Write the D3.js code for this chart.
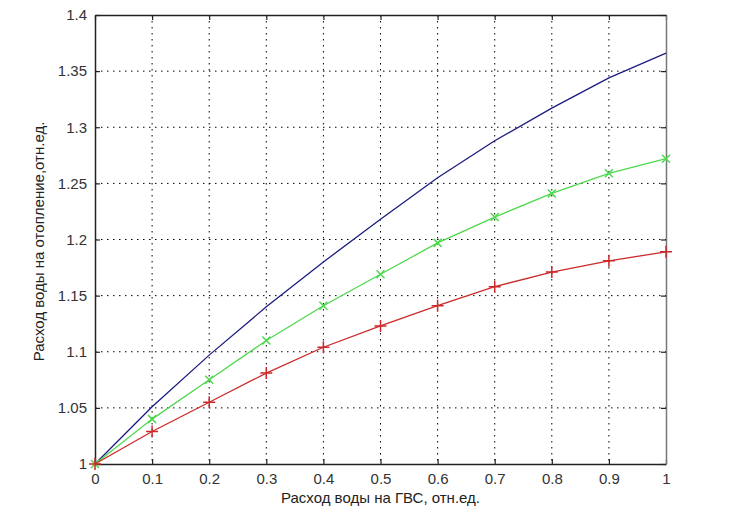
<!DOCTYPE html>
<html><head><meta charset="utf-8">
<script src="https://cdn.jsdelivr.net/npm/d3@7"></script>
<style>body{margin:0;background:#fff;}svg{display:block;}</style>
</head><body>
<svg id="c" width="733" height="523"></svg>
<script>
const xValues = [0,0.1,0.2,0.3,0.4,0.5,0.6,0.7,0.8,0.9,1.0];
const blueValues = [1.0,1.051,1.097,1.140,1.180,1.218,1.255,1.288,1.317,1.344,1.366];
const greenValues = [1.0,1.040,1.075,1.110,1.141,1.169,1.197,1.220,1.241,1.259,1.272];
const redValues = [1.0,1.029,1.055,1.081,1.104,1.123,1.141,1.158,1.171,1.181,1.189];
const xTicks = [0,0.1,0.2,0.3,0.4,0.5,0.6,0.7,0.8,0.9,1];
const yTicks = [1,1.05,1.1,1.15,1.2,1.25,1.3,1.35,1.4];
const xLabel = "Расход воды на ГВС, отн.ед.";
const yLabel = "Расход воды на отопление,отн.ед.";

const L=95,R=666,T=15,B=464;
const svg=d3.select("#c");
const x=d3.scaleLinear().domain([0,1]).range([L,R]);
const y=d3.scaleLinear().domain([1,1.4]).range([B,T]);
const font="Liberation Sans, Arial, sans-serif";

// grid
const g=svg.append("g");
g.selectAll(".vg").data(xTicks.slice(1,-1)).join("line")
  .attr("x1",d=>x(d)).attr("x2",d=>x(d)).attr("y1",T).attr("y2",B)
  .attr("stroke","#000").attr("stroke-width",1).attr("stroke-dasharray","1.5,4.5");
g.selectAll(".hg").data(yTicks.slice(1,-1)).join("line")
  .attr("y1",d=>y(d)).attr("y2",d=>y(d)).attr("x1",L).attr("x2",R)
  .attr("stroke","#000").attr("stroke-width",1).attr("stroke-dasharray","1.5,4.5");

// axes
const fmt=d=>String(+d.toFixed(2));
const xAxis=svg.append("g").attr("transform",`translate(0,${B})`)
  .call(d3.axisBottom(x).tickValues(xTicks).tickFormat(fmt).tickSizeInner(-5).tickSizeOuter(0).tickPadding(9));
const xTop=svg.append("g").attr("transform",`translate(0,${T})`)
  .call(d3.axisTop(x).tickValues(xTicks).tickFormat("").tickSizeInner(-5).tickSizeOuter(0));
const yAxis=svg.append("g").attr("transform",`translate(${L},0)`)
  .call(d3.axisLeft(y).tickValues(yTicks).tickFormat(fmt).tickSizeInner(-5).tickSizeOuter(0).tickPadding(8));
const yRight=svg.append("g").attr("transform",`translate(${R},0)`)
  .call(d3.axisRight(y).tickValues(yTicks).tickFormat("").tickSizeInner(-5).tickSizeOuter(0));
[xAxis,xTop,yAxis,yRight].forEach(a=>{
  a.selectAll(".domain").attr("stroke","#222").attr("stroke-width",1.5);
  a.selectAll(".tick line").attr("stroke","#222").attr("stroke-width",1.2);
  a.selectAll("text").attr("font-family",font).attr("font-size",15).attr("fill","#333");
});
yRight.select(".domain").attr("stroke","#777");

// lines
const line=d3.line().x((d,i)=>x(xValues[i])).y(d=>y(d));
const series=[
  {v:blueValues,c:"#1c1c80",m:null},
  {v:greenValues,c:"#4ed84e",m:"x"},
  {v:redValues,c:"#cc2a2a",m:"+"}
];
series.forEach(s=>{
  svg.append("path").datum(s.v).attr("d",line).attr("fill","none")
    .attr("stroke",s.c).attr("stroke-width",1.3);
  if(s.m){
    const r=s.m==="+"?6:4;
    s.v.forEach((v,i)=>{
      const cx=x(xValues[i]),cy=y(v);
      const p=s.m==="+"?`M${cx-r},${cy}H${cx+r}M${cx},${cy-r}V${cy+r}`
        :`M${cx-r},${cy-r}L${cx+r},${cy+r}M${cx-r},${cy+r}L${cx+r},${cy-r}`;
      svg.append("path").attr("d",p).attr("stroke",s.c).attr("stroke-width",1.5).attr("fill","none");
    });
  }
});

// labels
svg.append("text").attr("x",(L+R)/2).attr("y",503).attr("text-anchor","middle")
  .attr("font-family",font).attr("font-size",15).attr("fill","#222").text(xLabel);
svg.append("text").attr("transform",`translate(44,${(T+B)/2+2}) rotate(-90)`).attr("text-anchor","middle")
  .attr("font-family",font).attr("font-size",15).attr("fill","#222").text(yLabel);
</script>
</body></html>
